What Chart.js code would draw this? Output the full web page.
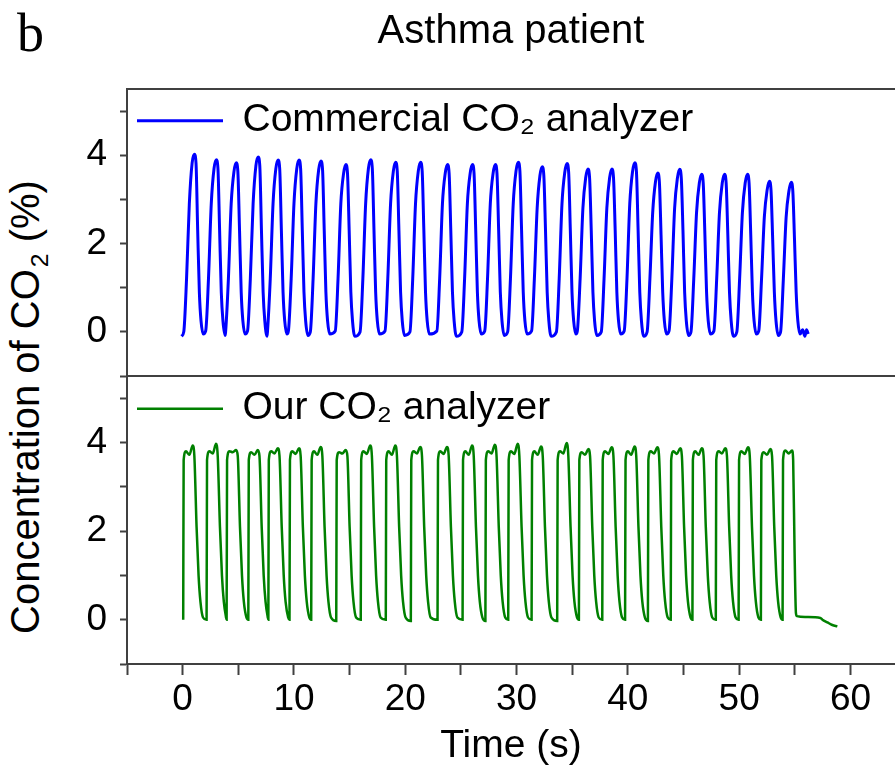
<!DOCTYPE html>
<html>
<head>
<meta charset="utf-8">
<script src="https://cdn.jsdelivr.net/npm/chart.js@4.4.1/dist/chart.umd.min.js"></script>
<style>
  body { margin: 0; background: #fff; }
  #wrap { position: relative; width: 895px; height: 776px; overflow: hidden; }
  .panel { position: absolute; left: 0; width: 895px; }
  #panelLetter { position: absolute; left: 17px; top: 6px; font: 54px/1 'Liberation Serif', 'Times New Roman', serif; color: #000; }
  #yTitle { position: absolute; left: 29px; top: 407px; transform: translate(-50%, -50%) rotate(-90deg);
            font: 40px/1 'Liberation Sans', Arial, sans-serif; color: #000; white-space: nowrap; }
  #yTitle sub { font-size: 0.62em; vertical-align: -0.38em; margin-left: 2px; }
</style>
</head>
<body>
<div id="wrap">
  <div id="panelLetter">b</div>
  <div id="yTitle">Concentration of CO<sub>2</sub> (%)</div>
  <div class="panel" style="top:0;height:378px"><canvas id="topChart" width="895" height="378"></canvas></div>
  <div class="panel" style="top:370px;height:406px"><canvas id="bottomChart" width="895" height="406"></canvas></div>
</div>
<script>
// Labels
const chartTitle = 'Asthma patient';
const xTitle = 'Time (s)';
const commercialLabel = 'Commercial CO\u2082 analyzer';
const ourLabel = 'Our CO\u2082 analyzer';

// Axis ticks
const xTickLabels = [0, 10, 20, 30, 40, 50, 60];
const yTickLabels = [0, 2, 4];

// Commercial analyzer trace [time (s), CO2 (%)]
const commercialCO2 = [
  [-0.10,-0.10],[0.10,0.00],[0.35,1.2],[0.60,2.9],[0.85,3.82],[1.05,4.02],[1.20,3.82],[1.35,2.3],[1.50,0.9],[1.65,0.25],[1.85,-0.05],
  [2.07,0.02],[2.32,1.2],[2.57,2.9],[2.82,3.70],[3.02,3.90],[3.17,3.70],[3.32,2.3],[3.47,0.9],[3.62,0.25],[3.82,-0.08],
  [3.86,0.00],[4.11,1.2],[4.36,2.9],[4.61,3.63],[4.81,3.83],[4.96,3.63],[5.11,2.3],[5.26,0.9],[5.41,0.25],[5.61,-0.05],
  [5.83,0.02],[6.08,1.2],[6.33,2.9],[6.58,3.76],[6.78,3.96],[6.93,3.76],[7.08,2.3],[7.23,0.9],[7.38,0.25],[7.58,-0.10],
  [7.62,0.00],[7.87,1.2],[8.12,2.9],[8.37,3.69],[8.57,3.89],[8.72,3.69],[8.87,2.3],[9.02,0.9],[9.17,0.25],[9.37,-0.05],
  [9.50,0.02],[9.75,1.2],[10.00,2.9],[10.25,3.69],[10.45,3.89],[10.60,3.69],[10.75,2.3],[10.90,0.9],[11.05,0.25],[11.25,-0.08],
  [11.47,0.00],[11.72,1.2],[11.97,2.9],[12.22,3.67],[12.42,3.87],[12.57,3.67],[12.72,2.3],[12.87,0.9],[13.02,0.25],[13.22,-0.05],
  [13.71,0.02],[13.96,1.2],[14.21,2.9],[14.46,3.59],[14.66,3.79],[14.81,3.59],[14.96,2.3],[15.11,0.9],[15.26,0.25],[15.46,-0.10],
  [15.94,0.00],[16.19,1.2],[16.44,2.9],[16.69,3.70],[16.89,3.90],[17.04,3.70],[17.19,2.3],[17.34,0.9],[17.49,0.25],[17.69,-0.05],
  [18.18,0.02],[18.43,1.2],[18.68,2.9],[18.93,3.64],[19.13,3.84],[19.28,3.64],[19.43,2.3],[19.58,0.9],[19.73,0.25],[19.93,-0.08],
  [20.42,0.00],[20.67,1.2],[20.92,2.9],[21.17,3.64],[21.37,3.84],[21.52,3.64],[21.67,2.3],[21.82,0.9],[21.97,0.25],[22.17,-0.05],
  [22.84,0.02],[23.09,1.2],[23.34,2.9],[23.59,3.59],[23.79,3.79],[23.94,3.59],[24.09,2.3],[24.24,0.9],[24.39,0.25],[24.59,-0.10],
  [25.08,0.00],[25.33,1.2],[25.58,2.9],[25.83,3.59],[26.03,3.79],[26.18,3.59],[26.33,2.3],[26.48,0.9],[26.63,0.25],[26.83,-0.05],
  [27.14,0.02],[27.39,1.2],[27.64,2.9],[27.89,3.59],[28.09,3.79],[28.24,3.59],[28.39,2.3],[28.54,0.9],[28.69,0.25],[28.89,-0.08],
  [29.20,0.00],[29.45,1.2],[29.70,2.9],[29.95,3.64],[30.15,3.84],[30.30,3.64],[30.45,2.3],[30.60,0.9],[30.75,0.25],[30.95,-0.05],
  [31.35,0.02],[31.60,1.2],[31.85,2.8],[32.10,3.54],[32.30,3.74],[32.45,3.54],[32.60,2.3],[32.75,0.9],[32.90,0.25],[33.10,-0.10],
  [33.58,0.00],[33.83,1.2],[34.08,2.9],[34.33,3.61],[34.53,3.81],[34.68,3.61],[34.83,2.3],[34.98,0.9],[35.13,0.25],[35.33,-0.05],
  [35.46,0.02],[35.71,1.2],[35.96,2.8],[36.21,3.49],[36.41,3.69],[36.56,3.49],[36.71,2.3],[36.86,0.9],[37.01,0.25],[37.21,-0.08],
  [37.61,0.00],[37.86,1.2],[38.11,2.8],[38.36,3.49],[38.56,3.69],[38.71,3.49],[38.86,2.3],[39.01,0.9],[39.16,0.25],[39.36,-0.05],
  [39.67,0.02],[39.92,1.2],[40.17,2.9],[40.42,3.63],[40.62,3.83],[40.77,3.63],[40.92,2.3],[41.07,0.9],[41.22,0.25],[41.42,-0.10],
  [41.73,0.00],[41.98,1.2],[42.23,2.7],[42.48,3.40],[42.68,3.60],[42.83,3.40],[42.98,2.2],[43.13,0.9],[43.28,0.25],[43.48,-0.05],
  [43.70,0.02],[43.95,1.2],[44.20,2.8],[44.45,3.48],[44.65,3.68],[44.80,3.48],[44.95,2.3],[45.10,0.9],[45.25,0.25],[45.45,-0.08],
  [45.67,0.00],[45.92,1.2],[46.17,2.7],[46.42,3.37],[46.62,3.57],[46.77,3.37],[46.92,2.2],[47.07,0.9],[47.22,0.25],[47.42,-0.05],
  [47.73,0.02],[47.98,1.2],[48.23,2.7],[48.48,3.37],[48.68,3.57],[48.83,3.37],[48.98,2.2],[49.13,0.9],[49.28,0.25],[49.48,-0.10],
  [49.79,0.00],[50.04,1.2],[50.29,2.7],[50.54,3.37],[50.74,3.57],[50.89,3.37],[51.04,2.2],[51.19,0.9],[51.34,0.25],[51.54,-0.05],
  [51.76,0.02],[52.01,1.2],[52.26,2.6],[52.51,3.21],[52.71,3.41],[52.86,3.21],[53.01,2.1],[53.16,0.9],[53.31,0.25],[53.51,-0.08],
  [53.72,0.00],[53.97,1.2],[54.22,2.6],[54.47,3.19],[54.67,3.39],[54.82,3.19],[54.97,2.1],[55.12,0.9],[55.27,0.25],[55.47,-0.05],
  [55.70,0.05],[55.90,-0.10],[56.05,0.05],[56.20,-0.05]
];

// Our analyzer trace [time (s), CO2 (%)]
const ourCO2 = [
  [0.05,0.0],[0.09,3.6],[0.30,3.8],[0.60,3.72],[0.90,3.93],[1.05,3.7],[1.25,2.1],[1.43,1.0],[1.60,0.4],[1.83,0.05],
  [2.15,0.0],[2.19,3.6],[2.40,3.8],[2.70,3.75],[3.00,3.97],[3.15,3.7],[3.35,2.1],[3.53,1.0],[3.70,0.4],[3.90,0.05],
  [3.95,0.0],[3.99,3.6],[4.20,3.8],[4.50,3.78],[4.80,3.83],[4.95,3.7],[5.15,2.1],[5.33,1.0],[5.50,0.4],[5.73,0.05],
  [5.90,0.0],[5.94,3.6],[6.15,3.78],[6.45,3.72],[6.75,3.83],[6.90,3.7],[7.10,2.1],[7.28,1.0],[7.45,0.4],[7.65,0.05],
  [7.70,0.0],[7.74,3.6],[7.95,3.8],[8.25,3.75],[8.55,3.87],[8.70,3.7],[8.90,2.1],[9.08,1.0],[9.25,0.4],[9.48,0.05],
  [9.60,0.0],[9.64,3.6],[9.85,3.8],[10.15,3.74],[10.45,3.87],[10.60,3.7],[10.80,2.1],[10.98,1.0],[11.15,0.4],[11.38,0.05],
  [11.55,0.0],[11.59,3.6],[11.80,3.8],[12.10,3.72],[12.40,3.90],[12.55,3.7],[12.75,2.1],[12.93,1.0],[13.10,0.4],[13.33,0.05],
  [13.80,-0.03],[13.84,3.6],[14.05,3.78],[14.35,3.75],[14.65,3.83],[14.80,3.7],[15.00,2.1],[15.18,1.0],[15.35,0.4],[15.58,0.05],
  [16.00,0.0],[16.04,3.6],[16.25,3.8],[16.55,3.74],[16.85,3.93],[17.00,3.7],[17.20,2.1],[17.38,1.0],[17.55,0.4],[17.78,0.05],
  [18.25,0.0],[18.29,3.6],[18.50,3.8],[18.80,3.72],[19.10,3.93],[19.25,3.7],[19.45,2.1],[19.63,1.0],[19.80,0.4],[20.03,0.05],
  [20.50,-0.03],[20.54,3.6],[20.75,3.8],[21.05,3.75],[21.35,3.90],[21.50,3.7],[21.70,2.1],[21.88,1.0],[22.05,0.4],[22.28,0.05],
  [22.90,0.0],[22.94,3.6],[23.15,3.8],[23.45,3.74],[23.75,3.90],[23.90,3.7],[24.10,2.1],[24.28,1.0],[24.45,0.4],[24.68,0.05],
  [25.15,0.0],[25.19,3.6],[25.40,3.8],[25.70,3.72],[26.00,3.93],[26.15,3.7],[26.35,2.1],[26.53,1.0],[26.70,0.4],[26.93,0.05],
  [27.20,-0.03],[27.24,3.6],[27.45,3.8],[27.75,3.75],[28.05,3.95],[28.20,3.7],[28.40,2.1],[28.58,1.0],[28.75,0.4],[28.98,0.05],
  [29.25,0.0],[29.29,3.6],[29.50,3.8],[29.80,3.74],[30.10,3.97],[30.25,3.7],[30.45,2.1],[30.63,1.0],[30.80,0.4],[31.03,0.05],
  [31.35,0.0],[31.39,3.6],[31.60,3.8],[31.90,3.72],[32.20,3.91],[32.35,3.7],[32.55,2.1],[32.73,1.0],[32.90,0.4],[33.13,0.05],
  [33.65,-0.03],[33.69,3.6],[33.90,3.8],[34.20,3.75],[34.50,3.99],[34.65,3.7],[34.85,2.1],[35.03,1.0],[35.20,0.4],[35.43,0.05],
  [35.60,0.0],[35.64,3.6],[35.85,3.78],[36.15,3.72],[36.45,3.85],[36.60,3.7],[36.80,2.1],[36.98,1.0],[37.15,0.4],[37.38,0.05],
  [37.70,0.0],[37.74,3.6],[37.95,3.8],[38.25,3.74],[38.55,3.89],[38.70,3.7],[38.90,2.1],[39.08,1.0],[39.25,0.4],[39.48,0.05],
  [39.75,0.0],[39.79,3.6],[40.00,3.8],[40.30,3.72],[40.60,3.91],[40.75,3.7],[40.95,2.1],[41.13,1.0],[41.30,0.4],[41.53,0.05],
  [41.80,-0.03],[41.84,3.6],[42.05,3.8],[42.35,3.75],[42.65,3.89],[42.80,3.7],[43.00,2.1],[43.18,1.0],[43.35,0.4],[43.58,0.05],
  [43.85,0.0],[43.89,3.6],[44.10,3.8],[44.40,3.74],[44.70,3.87],[44.85,3.7],[45.05,2.1],[45.23,1.0],[45.40,0.4],[45.63,0.05],
  [45.80,0.0],[45.84,3.6],[46.05,3.8],[46.35,3.72],[46.65,3.87],[46.80,3.7],[47.00,2.1],[47.18,1.0],[47.35,0.4],[47.58,0.05],
  [47.90,0.0],[47.94,3.6],[48.15,3.8],[48.45,3.75],[48.75,3.87],[48.90,3.7],[49.10,2.1],[49.28,1.0],[49.45,0.4],[49.68,0.05],
  [49.95,0.0],[49.99,3.6],[50.20,3.8],[50.50,3.74],[50.80,3.89],[50.95,3.7],[51.15,2.1],[51.33,1.0],[51.50,0.4],[51.73,0.05],
  [51.95,0.0],[51.99,3.6],[52.20,3.78],[52.50,3.72],[52.80,3.85],[52.95,3.7],[53.15,2.1],[53.33,1.0],[53.50,0.4],[53.73,0.05],
  [53.90,0.0],[53.94,3.6],[54.15,3.82],[54.45,3.75],[54.75,3.82],[54.85,3.6],[54.98,1.5],[55.10,0.15],[55.20,0.08],
  [56.00,0.06],[57.30,0.04],[57.48,0.0],[57.92,-0.06],[58.37,-0.12],[58.82,-0.15]
];

const fontFamily = "'Liberation Sans', Arial, sans-serif";
const axisColor = '#404040';

const toXY = (pts) => pts.map(p => ({ x: p[0], y: p[1] }));

// top and bottom edges of each panel (no right-hand border in the original)
const framePlugin = {
    id: 'frame',
    afterDraw(chart) {
        const { ctx, chartArea } = chart;
        ctx.save();
        ctx.strokeStyle = axisColor;
        ctx.lineWidth = 2;
        ctx.beginPath();
        ctx.moveTo(chartArea.left, chartArea.top);
        ctx.lineTo(chartArea.right, chartArea.top);
        ctx.moveTo(chartArea.left, chartArea.bottom);
        ctx.lineTo(chartArea.right, chartArea.bottom);
        ctx.stroke();
        ctx.restore();
    }
};

const yScale = {
    type: 'linear',
    min: -1,
    max: 5.5,
    afterFit: (s) => { s.width = 127; s.paddingTop = 0; s.paddingBottom = 0; },
    border: { color: axisColor, width: 2 },
    grid: { drawOnChartArea: false, tickLength: 7, tickColor: axisColor, tickWidth: 2 },
    ticks: {
        stepSize: 1,
        includeBounds: false,
        padding: 13,
        color: '#000',
        font: { family: fontFamily, size: 37 },
        callback: (v) => yTickLabels.includes(v) ? String(v) : ''
    }
};

// legend sits inside the plot area; the empty legend title pushes it down from the canvas top
const makeLegend = (offset) => ({
    position: 'chartArea',
    align: 'start',
    title: { display: true, text: ' ', font: { size: 1 }, padding: { top: offset, bottom: 0 } },
    labels: {
        usePointStyle: true,
        pointStyle: 'line',
        pointStyleWidth: 86,
        padding: 10,
        color: '#000',
        font: { family: fontFamily, size: 39 }
    }
});

// Top panel: commercial analyzer
new Chart(document.getElementById('topChart'), {
    type: 'line',
    data: {
        datasets: [{
            label: commercialLabel,
            data: toXY(commercialCO2),
            borderColor: '#0000ff',
            backgroundColor: '#0000ff',
            borderWidth: 3,
            pointRadius: 0,
            cubicInterpolationMode: 'monotone'
        }]
    },
    options: {
        responsive: false,
        animation: false,
        layout: { padding: { top: 0, bottom: 2, left: 0, right: 0 } },
        scales: {
            x: { type: 'linear', min: -5, max: 64, display: false },
            y: yScale
        },
        plugins: {
            legend: makeLegend(90),
            title: {
                display: true,
                text: chartTitle,
                fullSize: false,
                color: '#000',
                font: { family: fontFamily, size: 40, weight: 'normal' },
                padding: { top: 8, bottom: 33 }
            },
            tooltip: { enabled: false }
        }
    },
    plugins: [framePlugin]
});

// Bottom panel: our analyzer
new Chart(document.getElementById('bottomChart'), {
    type: 'line',
    data: {
        datasets: [{
            label: ourLabel,
            data: toXY(ourCO2),
            borderColor: '#008000',
            backgroundColor: '#008000',
            borderWidth: 2.5,
            pointRadius: 0,
            cubicInterpolationMode: 'monotone'
        }]
    },
    options: {
        responsive: false,
        animation: false,
        layout: { padding: { top: 6, bottom: 0, left: 0, right: 0 } },
        scales: {
            x: {
                type: 'linear',
                min: -5,
                max: 64,
                afterFit: (s) => { s.paddingLeft = 0; s.paddingRight = 0; },
                border: { color: axisColor, width: 2 },
                grid: { drawOnChartArea: false, tickLength: 11, tickColor: axisColor, tickWidth: 2 },
                ticks: {
                    stepSize: 5,
                    includeBounds: false,
                    maxRotation: 0,
                    autoSkip: false,
                    padding: 3,
                    color: '#000',
                    font: { family: fontFamily, size: 37 },
                    callback: (v) => xTickLabels.includes(v) ? String(v) : ''
                },
                title: {
                    display: true,
                    text: xTitle,
                    color: '#000',
                    font: { family: fontFamily, size: 39, lineHeight: 1.056 },
                    padding: { top: 0, bottom: 9.4 }
                }
            },
            y: yScale
        },
        plugins: {
            legend: makeLegend(8),
            tooltip: { enabled: false }
        }
    },
    plugins: [framePlugin]
});
</script>
</body>
</html>
